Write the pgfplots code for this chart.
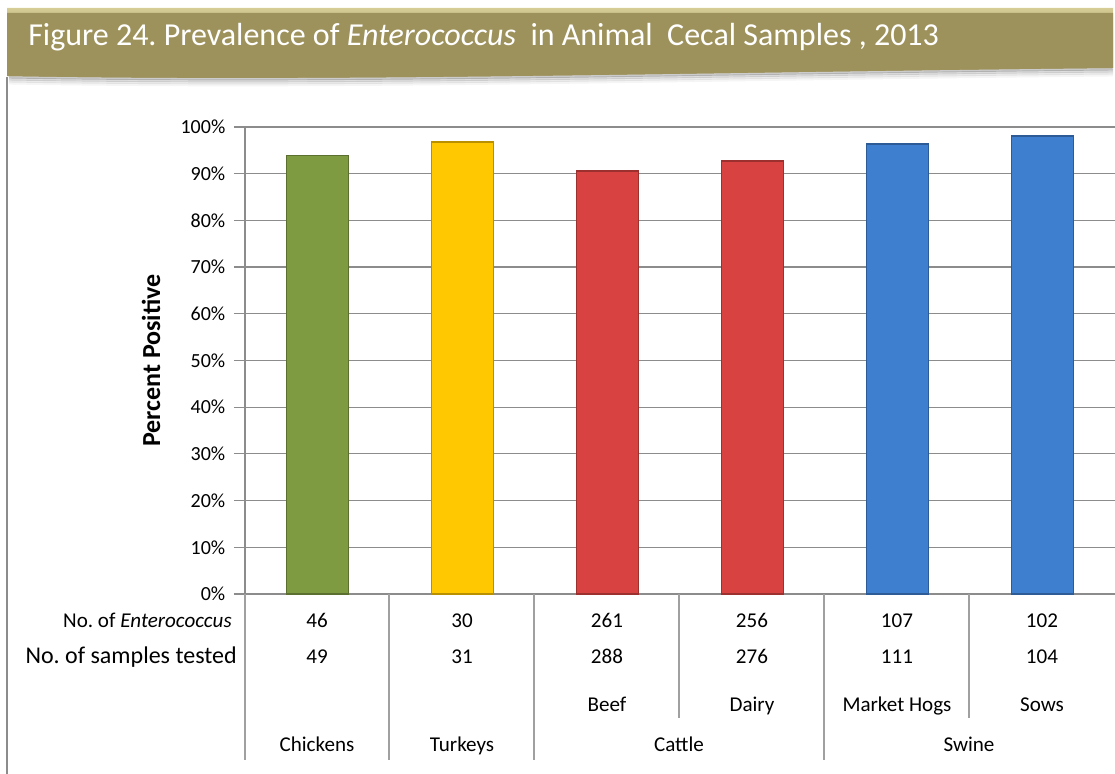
\documentclass[border=0pt]{standalone}
\usepackage{pgfplots}
\pgfplotsset{compat=1.18}
\usepackage{fontspec}
\setmainfont{Carlito}
\frenchspacing
\definecolor{barTitle}{HTML}{9E925C}
\definecolor{barTitleTop}{HTML}{D6CC96}
\definecolor{cgreen}{HTML}{7F9B42}
\definecolor{cyellow}{HTML}{FFC800}
\definecolor{cred}{HTML}{D84240}
\definecolor{cblue}{HTML}{3E7FD0}
\definecolor{gridgray}{HTML}{8C8C8C}
\definecolor{sepgray}{HTML}{A0A0A0}
\pgfplotsset{
  bevel/.style={fill=#1, draw=#1!72!black, line width=1.2pt},
}
\begin{document}
\begin{tikzpicture}[x=0.75pt,y=0.75pt]
\useasboundingbox (0,0) rectangle (1115,774);
% shadow of title bar
\foreach \o/\op in {1/0.20,3/0.13,5/0.08,7/0.04}{
  \draw[black, opacity=\op, line width=2.2pt] (1113,{706-\o}) .. controls (700,{702-\o}) and (350,{692-\o}) .. (9,{698-\o});
}
% title bar
\shade[top color=barTitleTop, bottom color=barTitle, middle color=barTitle, shading angle=0]
  (7,766) -- (1113,766) -- (1113,706) .. controls (700,702) and (350,692) .. (7,698) -- cycle;
\fill[barTitle] (7,761) -- (1113,761) -- (1113,706) .. controls (700,702) and (350,692) .. (7,698) -- cycle;
\node[anchor=base west, text=white, inner sep=0pt, font=\fontsize{24}{28}\selectfont] at (28,728)
  {Figure 24. Prevalence of \textit{Enterococcus}\ \ in Animal\ \ Cecal Samples , 2013};
% left border
\draw[gridgray, line width=0.9pt] (7,697) -- (7,0);
\begin{axis}[
  at={(183.75pt,135pt)}, anchor=south west,
  scale only axis, width=652.5pt, height=350.25pt,
  xmin=-0.5, xmax=5.5, ymin=0, ymax=100,
  ybar, bar width=46.5pt, bar shift=0pt,
  xtick=\empty,
  ytick={0,10,...,100},
  yticklabel={\pgfmathprintnumber{\tick}\%},
  /pgf/number format/assume math mode=true,
  ticklabel style={font=\fontsize{15}{18}\selectfont, text=black},
  yticklabel style={xshift=-3pt},
  axis x line=bottom, axis y line=left,
  axis line style={-, draw=gridgray, line width=0.9pt},
  ymajorgrids, grid style={draw=gridgray, line width=0.9pt},
  tick align=outside, major tick length=8.25pt,
  tick style={draw=gridgray, line width=0.9pt},
  ylabel={Percent Positive},
  ylabel style={at={(axis description cs:-0.108,0.5)}, anchor=center, font=\bfseries\fontsize{19.5}{23}\selectfont},
  clip=false,
]
\addplot[bevel=cgreen] coordinates {(0,93.88)};
\addplot[bevel=cyellow] coordinates {(1,96.77)};
\addplot[bevel=cred] coordinates {(2,90.63) (3,92.75)};
\addplot[bevel=cblue] coordinates {(4,96.40) (5,98.08)};
\end{axis}
% table separators
\foreach \x in {245,389,534,824}{\draw[sepgray, line width=0.9pt] (\x,180) -- (\x,14);}
\foreach \x in {679,969}{\draw[sepgray, line width=0.9pt] (\x,180) -- (\x,56);}
% row labels
\node[anchor=base east, inner sep=0pt, font=\fontsize{15.8}{18}\selectfont] at (232,146) {No. of \textit{Enterococcus}};
\node[anchor=base east, inner sep=0pt, font=\fontsize{18}{21}\selectfont] at (237,110) {No. of samples tested};
% table values
\begin{scope}[every node/.style={anchor=base, inner sep=0pt, font=\fontsize{15.8}{18}\selectfont}]
\foreach \x/\a/\b in {317/46/49, 462/30/31, 607/261/288, 752/256/276, 897/107/111, 1042/102/104}{
  \node at (\x,146) {\a};
  \node at (\x,110) {\b};
}
\node at (607,62) {Beef};
\node at (752,62) {Dairy};
\node at (897,62) {Market Hogs};
\node at (1042,62) {Sows};
\node at (317,22) {Chickens};
\node at (462,22) {Turkeys};
\node at (679,22) {Cattle};
\node at (969,22) {Swine};
\end{scope}
\end{tikzpicture}
\end{document}
